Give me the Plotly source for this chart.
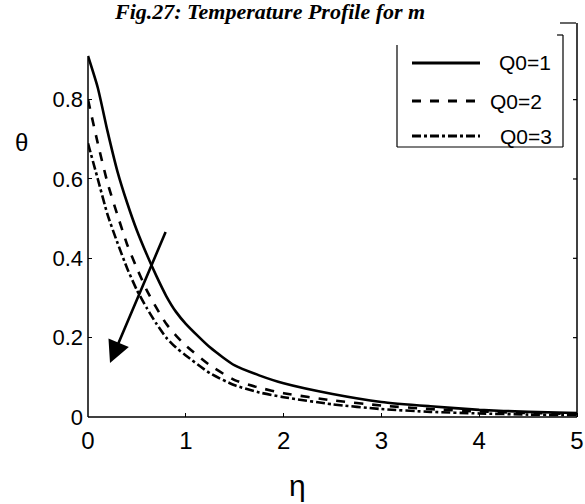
import plotly.graph_objects as go

eta = [0, 0.1, 0.2, 0.3, 0.4, 0.5, 0.6, 0.7, 0.8, 0.9, 1.0, 1.25, 1.5, 1.75, 2, 2.5, 3, 3.5, 4, 4.5, 5]
theta_q1 = [0.91, 0.83, 0.72, 0.62, 0.54, 0.47, 0.41, 0.355, 0.305, 0.265, 0.235, 0.175, 0.13, 0.105, 0.085, 0.058, 0.038, 0.027, 0.018, 0.013, 0.010]
theta_q2 = [0.80, 0.69, 0.59, 0.51, 0.435, 0.375, 0.32, 0.275, 0.235, 0.205, 0.18, 0.13, 0.093, 0.074, 0.060, 0.042, 0.029, 0.020, 0.014, 0.010, 0.008]
theta_q3 = [0.69, 0.60, 0.51, 0.44, 0.375, 0.32, 0.275, 0.235, 0.20, 0.175, 0.155, 0.11, 0.080, 0.062, 0.050, 0.032, 0.020, 0.013, 0.009, 0.006, 0.005]
series_names = ["Q0=1", "Q0=2", "Q0=3"]
dashes = ["solid", "dash", "dashdot"]
x_ticks = [0, 1, 2, 3, 4, 5]
y_ticks = [0, 0.2, 0.4, 0.6, 0.8]
arrow_from = (0.80, 0.47)
arrow_to = (0.225, 0.136)

fig = go.Figure()
for ys, name, d in zip([theta_q1, theta_q2, theta_q3], series_names, dashes):
    fig.add_trace(go.Scatter(x=eta, y=ys, mode="lines", name=name, showlegend=False,
                             line=dict(color="black", width=2.6, dash=d, shape="spline", smoothing=0.6)))

W, H = 585, 504
L, R, T, B = 88, 0, 23, 87
pw, ph = W - L - R, H - T - B
def px(x): return (x - L) / pw
def py(y): return (H - B - y) / ph

shapes = []
shapes.append(dict(type="line", xref="paper", yref="y", x0=0, x1=0, y0=0, y1=max(theta_q1),
                   line=dict(color="black", width=1.5)))
shapes.append(dict(type="line", xref="x", yref="paper", x0=max(eta), x1=max(eta), y0=0, y1=1,
                   line=dict(color="black", width=1.5)))
shapes.append(dict(type="line", xref="paper", yref="paper", x0=px(560), x1=px(576), y0=1, y1=1,
                   line=dict(color="black", width=1.2)))
lx0, lx1, ly0, ly1, ly1r = px(397), px(563), py(147), py(45), py(35)
shapes.append(dict(type="line", xref="paper", yref="paper", x0=lx0, x1=lx0, y0=ly0, y1=ly1, line=dict(color="black", width=1.2)))
shapes.append(dict(type="line", xref="paper", yref="paper", x0=lx0, x1=lx1, y0=ly0, y1=ly0, line=dict(color="black", width=1.2)))
shapes.append(dict(type="line", xref="paper", yref="paper", x0=lx1, x1=lx1, y0=ly0, y1=ly1r, line=dict(color="black", width=1.2)))
shapes.append(dict(type="line", xref="paper", yref="paper", x0=lx1 - 0.012, x1=lx1, y0=ly1r, y1=ly1r, line=dict(color="black", width=1.2)))

annotations = []
rows = [63, 101, 136]
text_x = [497, 488, 498]
for name, d, r, tx in zip(series_names, dashes, rows, text_x):
    shapes.append(dict(type="line", xref="paper", yref="paper", x0=px(412), x1=px(480), y0=py(r), y1=py(r),
                       line=dict(color="black", width=2.8, dash=d)))
    annotations.append(dict(x=px(tx), y=py(r), xref="paper", yref="paper", text=name, showarrow=False,
                            xanchor="left", yanchor="middle",
                            font=dict(family="Liberation Sans, Arial", size=21, color="black")))

annotations.append(dict(x=arrow_to[0], y=arrow_to[1], ax=arrow_from[0], ay=arrow_from[1],
                        xref="x", yref="y", axref="x", ayref="y", showarrow=True, text="",
                        arrowhead=2, arrowsize=1.7, arrowwidth=2.6, arrowcolor="black"))
annotations.append(dict(x=px(21), y=py(142), xref="paper", yref="paper", text="θ", showarrow=False,
                        xanchor="center", yanchor="middle",
                        font=dict(family="Liberation Sans, Arial", size=24, color="black")))
annotations.append(dict(x=px(297), y=py(486), xref="paper", yref="paper", text="η", showarrow=False,
                        xanchor="center", yanchor="middle",
                        font=dict(family="Liberation Sans, Arial", size=30, color="black")))
annotations.append(dict(x=px(269), y=py(12), xref="paper", yref="paper", text="Fig.27: Temperature Profile for m",
                        showarrow=False, xanchor="center", yanchor="middle",
                        font=dict(family="Liberation Serif, Times New Roman", size=22, color="black",
                                  style="italic", weight="bold")))

fig.update_layout(
    width=W, height=H,
    margin=dict(l=L, r=R, t=T, b=B, pad=0),
    paper_bgcolor="white", plot_bgcolor="white",
    showlegend=False,
    shapes=shapes, annotations=annotations,
    xaxis=dict(range=[0, 5 * (W - L) / (577 - L)], tickvals=x_ticks, ticktext=[str(v) for v in x_ticks],
               showgrid=False, zeroline=False, showline=False,
               ticks="inside", ticklen=4, tickcolor="black", mirror=False, ticklabelstandoff=7,
               tickfont=dict(family="Liberation Sans, Arial", size=24, color="black")),
    yaxis=dict(range=[0, (H - B - T) / 396.7], tickvals=y_ticks, ticktext=["0", "0.2", "0.4", "0.6", "0.8"],
               showgrid=False, zeroline=False, showline=False,
               ticks="inside", ticklen=4, tickcolor="black", mirror=False, ticklabelstandoff=4,
               tickfont=dict(family="Liberation Sans, Arial", size=22, color="black")),
)
fig.add_shape(type="line", xref="paper", yref="paper", x0=0, x1=px(577), y0=0, y1=0,
              line=dict(color="black", width=1.5))
for v in y_ticks[1:]:
    fig.add_shape(type="line", xref="paper", yref="y", x0=px(573), x1=px(577), y0=v, y1=v,
                  line=dict(color="black", width=1.2))

fig.write_html("out.html")
